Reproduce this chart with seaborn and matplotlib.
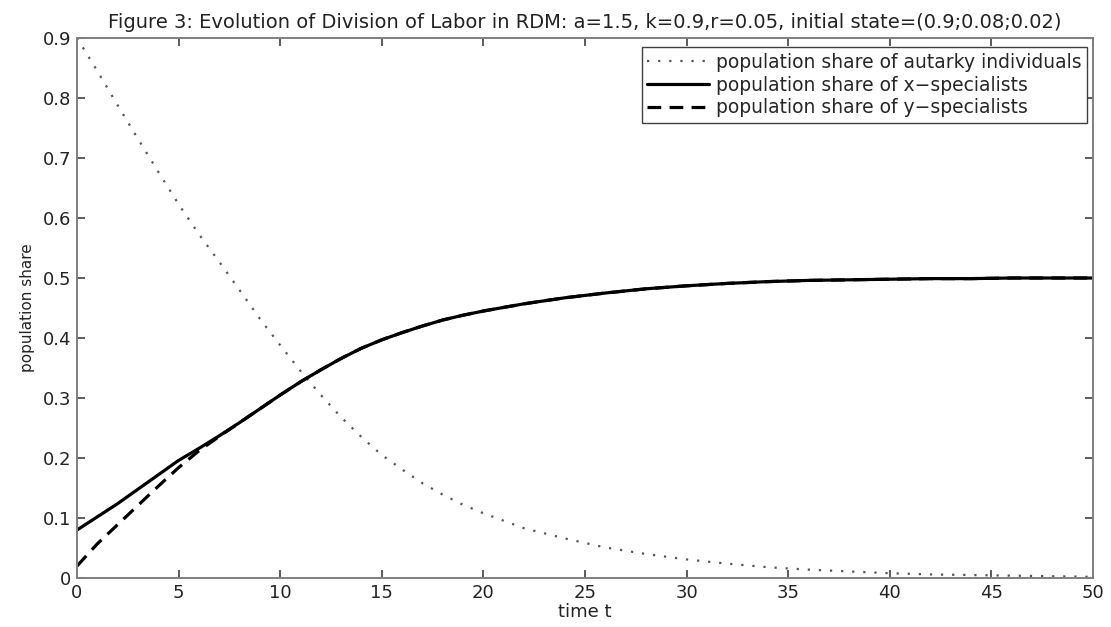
import pandas as pd
import seaborn as sns
import matplotlib.pyplot as plt

# time points and population shares
time_t = [0, 1, 2, 3, 4, 5, 6, 7, 8, 9, 10, 11, 12, 13, 14, 15, 16, 17, 18, 19,
          20, 22, 24, 26, 28, 30, 32, 34, 36, 38, 40, 42, 44, 46, 48, 50]

autarky = [0.900, 0.845, 0.788, 0.732, 0.677, 0.623, 0.573, 0.527, 0.480, 0.432,
           0.388, 0.345, 0.305, 0.268, 0.235, 0.205, 0.181, 0.158, 0.139, 0.122,
           0.108, 0.083, 0.066, 0.051, 0.040, 0.031, 0.024, 0.018, 0.014, 0.011,
           0.008, 0.006, 0.005, 0.004, 0.003, 0.002]

x_spec = [0.080, 0.102, 0.124, 0.148, 0.172, 0.196, 0.216, 0.237, 0.259, 0.282,
          0.305, 0.327, 0.347, 0.366, 0.383, 0.397, 0.409, 0.420, 0.430, 0.438,
          0.445, 0.457, 0.467, 0.475, 0.482, 0.487, 0.491, 0.494, 0.496, 0.497,
          0.498, 0.499, 0.499, 0.500, 0.500, 0.500]

y_spec = [0.020, 0.057, 0.089, 0.121, 0.153, 0.184, 0.212, 0.236, 0.259, 0.282,
          0.305, 0.327, 0.347, 0.366, 0.383, 0.397, 0.409, 0.420, 0.430, 0.438,
          0.445, 0.457, 0.467, 0.475, 0.482, 0.487, 0.491, 0.494, 0.496, 0.497,
          0.498, 0.499, 0.499, 0.500, 0.500, 0.500]

series_names = ["population share of autarky individuals",
                "population share of x\u2212specialists",
                "population share of y\u2212specialists"]

x_ticks = [0, 5, 10, 15, 20, 25, 30, 35, 40, 45, 50]
x_tick_labels = ["0", "5", "10", "15", "20", "25", "30", "35", "40", "45", "50"]
y_ticks = [0, 0.1, 0.2, 0.3, 0.4, 0.5, 0.6, 0.7, 0.8, 0.9]
y_tick_labels = ["0", "0.1", "0.2", "0.3", "0.4", "0.5", "0.6", "0.7", "0.8", "0.9"]

TITLE = ("Figure 3: Evolution of Division of Labor in RDM: a=1.5, "
         "k=0.9,r=0.05, initial state=(0.9;0.08;0.02)")

frames = []
for name, vals in zip(series_names, [autarky, x_spec, y_spec]):
    frames.append(pd.DataFrame({"t": time_t, "share": vals, "series": name}))
df = pd.concat(frames, ignore_index=True)

sns.set_theme(style="ticks")
plt.rcParams["font.family"] = ["DejaVu Sans"]
plt.rcParams["axes.edgecolor"] = "#808080"
plt.rcParams["axes.linewidth"] = 1.4

fig = plt.figure(figsize=(11.11, 6.27), dpi=100)
ax = fig.add_axes([0.0693, 0.0781, 0.9145, 0.8613])

palette = {series_names[0]: "#555555",
           series_names[1]: "black",
           series_names[2]: "black"}
dashes = {series_names[0]: (1, 4),
          series_names[1]: "",
          series_names[2]: (4.3, 2.6)}
sizes = {series_names[0]: 1.6,
         series_names[1]: 2.3,
         series_names[2]: 2.3}

sns.lineplot(data=df, x="t", y="share", hue="series", style="series",
             size="series", hue_order=series_names, style_order=series_names,
             size_order=series_names, palette=palette, dashes=dashes,
             sizes=sizes, ax=ax)

ax.set_xlim(0, 50)
ax.set_ylim(0, 0.9)
ax.set_xticks(x_ticks)
ax.set_xticklabels(x_tick_labels)
ax.set_yticks(y_ticks)
ax.set_yticklabels(y_tick_labels)
ax.tick_params(direction="in", length=6, width=1.2, color="#404040",
               labelsize=13, labelcolor="#222222", top=True, right=True, pad=4)
for s in ax.spines.values():
    s.set_visible(True)

ax.set_title(TITLE, fontsize=14, color="#222222", pad=7)
ax.set_xlabel("time t", fontsize=13, color="#222222", labelpad=1)
ax.set_ylabel("population share", fontsize=11, color="#222222", labelpad=6)

sns.move_legend(ax, "upper right", bbox_to_anchor=(0.994, 0.983), title=None,
                frameon=True, fancybox=False, fontsize=13.5, handlelength=3.3,
                handletextpad=0.35, borderpad=0.3, labelspacing=0.2,
                borderaxespad=0, edgecolor="#404040", framealpha=1)
ax.get_legend().get_frame().set_linewidth(1.0)

plt.savefig("out.png", dpi=100)
plt.close()
